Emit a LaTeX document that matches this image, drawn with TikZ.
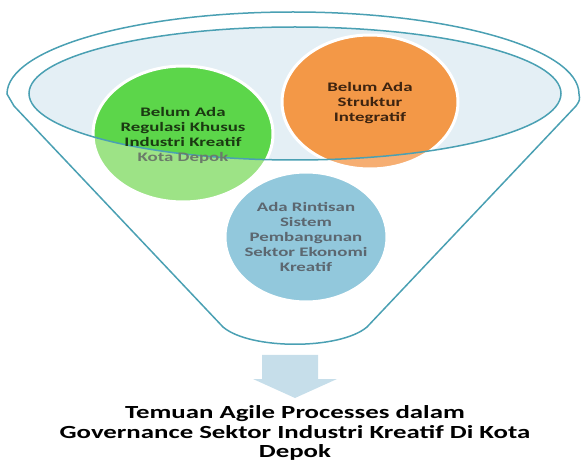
\documentclass[tikz,border=0pt]{standalone}
\usepackage{fontspec}
\setmainfont{Carlito}
\newfontfamily\cfont{Carlito}[FakeStretch=1.45]
\definecolor{funnelc}{HTML}{4AA0B3}
\definecolor{innerc}{HTML}{E4EFF5}
\definecolor{greenL}{HTML}{9DE386}
\definecolor{greenD}{HTML}{5CD64A}
\definecolor{orangeL}{HTML}{F6AE72}
\definecolor{orangeD}{HTML}{F39847}
\definecolor{blueC}{HTML}{92C8DC}
\definecolor{arrowc}{HTML}{C6DEEA}
\definecolor{gtext}{HTML}{1B3A12}
\definecolor{ggrey}{HTML}{6B7B6A}
\definecolor{otext}{HTML}{3E2410}
\definecolor{btext}{HTML}{5C6770}
\tikzset{
  funnelline/.style={draw=funnelc, line width=1.5pt},
  bubble/.style={draw=white, line width=3pt},
  bubtext/.style={align=center, font=\cfont\bfseries\fontsize{13}{15}\selectfont},
  titletext/.style={align=center, font=\cfont\bfseries\fontsize{18.5}{19.5}\selectfont, text=black}
}
\begin{document}
\begin{tikzpicture}[x=1pt,y=-1pt]
\useasboundingbox (0,0) rectangle (582,468);
% outer funnel
\draw[funnelline] (7,94) arc[start angle=180, end angle=360, x radius=286, y radius=82]
  .. controls (580,100) .. (576,106) -- (367,327)
  .. controls (340,350) and (250,350) .. (223,327)
  -- (14,106) .. controls (10,100) .. (7,94) -- cycle;
% inner ellipse fill
\fill[innerc] (295,93.5) ellipse[x radius=266, y radius=66.5];
% bubbles
\fill[greenL] (183,134) ellipse[x radius=90, y radius=68];
\fill[orangeL] (370,102) ellipse[x radius=88, y radius=67];
\begin{scope}
  \clip (295,93.5) ellipse[x radius=266, y radius=66.5];
  \fill[greenD] (183,134) ellipse[x radius=90, y radius=68];
  \fill[orangeD] (370,102) ellipse[x radius=88, y radius=67];
\end{scope}
\draw[bubble] (183,134) ellipse[x radius=90, y radius=68];
\draw[bubble] (370,102) ellipse[x radius=88, y radius=67];
\filldraw[fill=blueC, bubble] (306,237) ellipse[x radius=81, y radius=65];
% inner ellipse outline
\draw[funnelline] (295,93.5) ellipse[x radius=266, y radius=66.5];
% texts
\node[bubtext] (g) at (183,135) {\textcolor{gtext}{Belum Ada}\\\textcolor{gtext}{Regulasi Khusus}\\\textcolor{gtext}{Industri Kreatif}\\\textcolor{ggrey}{Kota Depok}};
\node[bubtext, text=otext] (o) at (370,103) {Belum Ada\\Struktur\\Integratif};
\node[bubtext, text=btext] (b) at (306,237) {Ada Rintisan\\Sistem\\Pembangunan\\Sektor Ekonomi\\Kreatif};
% arrow
\fill[arrowc] (262,355) -- (318,355) -- (318,379) -- (337,379) -- (295,398) -- (253,379) -- (262,379) -- cycle;
\node[titletext] (t) at (295,433) {Temuan Agile Processes dalam\\Governance Sektor Industri Kreatif Di Kota\\Depok};
\end{tikzpicture}
\end{document}
